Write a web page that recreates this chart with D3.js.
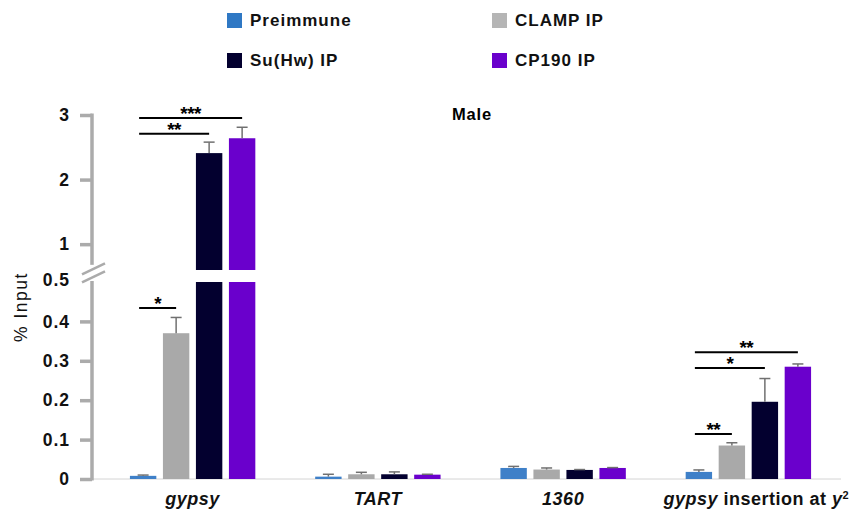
<!DOCTYPE html>
<html>
<head>
<meta charset="utf-8">
<script src="https://cdn.jsdelivr.net/npm/d3@7"></script>
<style>
  body { margin: 0; background: #fff; }
  svg { display: block; font-family: "Liberation Sans", Arial, sans-serif; }
</style>
</head>
<body>
<div id="chart"></div>
<script>
const categories = ["gypsy", "TART", "1360", "gypsy insertion at y2"];
const series = ["Preimmune", "CLAMP IP", "Su(Hw) IP", "CP190 IP"];
const seriesColors = ["#3f80c8", "#a9a9a9", "#03002f", "#6a00cc"];

// % input per category, one array per antibody
const preimmune = [0.008, 0.006, 0.028, 0.018];
const clampIP = [0.37, 0.012, 0.024, 0.085];
const suhwIP = [2.41, 0.012, 0.023, 0.196];
const cp190IP = [2.64, 0.011, 0.028, 0.285];

const preimmuneErr = [0.002, 0.006, 0.004, 0.005];
const clampErr = [0.04, 0.005, 0.004, 0.007];
const suhwErr = [0.17, 0.006, 0.001, 0.059];
const cp190Err = [0.17, 0.001, 0.001, 0.007];

const yTicksLow = [0, 0.1, 0.2, 0.3, 0.4, 0.5];
const yTicksHigh = [1, 2, 3];

// significance: [category, compared series, height (% input), stars]
const brackets = [
    ["gypsy", "CLAMP IP", 0.434, "*"],
    ["gypsy", "Su(Hw) IP", 2.71, "**"],
    ["gypsy", "CP190 IP", 2.955, "***"],
    ["gypsy insertion at y2", "CLAMP IP", 0.114, "**"],
    ["gypsy insertion at y2", "Su(Hw) IP", 0.282, "*"],
    ["gypsy insertion at y2", "CP190 IP", 0.322, "**"],
];

const values = [preimmune, clampIP, suhwIP, cp190IP];
const errors = [preimmuneErr, clampErr, suhwErr, cp190Err];

const width = 860, height = 517;
const axisX = 92;
const breakAt = 0.5;

const svg = d3.select("#chart").append("svg")
    .attr("width", width)
    .attr("height", height);

// broken y axis: two linear scales stacked
const yLow = d3.scaleLinear().domain([0, breakAt]).range([479, 282]);
const yHigh = d3.scaleLinear().domain([0.6, 3]).range([270, 115]);
const yVal = (v) => (v <= breakAt ? yLow(v) : yHigh(v));

const x = d3.scaleBand().domain(categories).range([100, 841]);
const xInner = d3.scaleBand().domain(series)
    .range([x.bandwidth() / 2 - 66, x.bandwidth() / 2 + 66])
    .paddingInner(0.2)
    .paddingOuter(0.1);

const barX = (cat, s) => x(cat) + xInner(s);
const barMid = (cat, s) => barX(cat, s) + xInner.bandwidth() / 2;

// legend
const legendG = svg.append("g");
series.forEach((s, i) => {
    const lx = i % 2 === 0 ? 227 : 492;
    const ly = i < 2 ? 13 : 53;
    legendG.append("rect")
        .attr("x", lx).attr("y", ly)
        .attr("width", 15).attr("height", 15)
        .attr("fill", i === 1 ? "#b5b5b5" : i === 0 ? "#2f78c4" : seriesColors[i]);
    legendG.append("text")
        .attr("x", lx + 23).attr("y", ly + 13)
        .style("font-size", "17px")
        .style("font-weight", "bold")
        .style("letter-spacing", "1px")
        .attr("fill", "#111")
        .text(s);
});

// title
svg.append("text")
    .attr("x", 472).attr("y", 120)
    .attr("text-anchor", "middle")
    .style("font-size", "16.5px")
    .style("font-weight", "bold")
    .style("letter-spacing", "0.8px")
    .text("Male");

// x baseline
svg.append("line")
    .attr("x1", axisX).attr("x2", 841)
    .attr("y1", yLow(0)).attr("y2", yLow(0))
    .attr("stroke", "#d4d4d4")
    .attr("stroke-width", 1);

// bars
const barsG = svg.append("g");
categories.forEach((cat, ci) => {
    series.forEach((s, si) => {
        const v = values[si][ci];
        const bx = barX(cat, s);
        const bw = xInner.bandwidth();
        if (v <= breakAt) {
            barsG.append("rect")
                .attr("x", bx).attr("y", yLow(v))
                .attr("width", bw).attr("height", yLow(0) - yLow(v))
                .attr("fill", seriesColors[si]);
        } else {
            barsG.append("rect")
                .attr("x", bx).attr("y", yLow(breakAt))
                .attr("width", bw).attr("height", yLow(0) - yLow(breakAt))
                .attr("fill", seriesColors[si]);
            barsG.append("rect")
                .attr("x", bx).attr("y", yHigh(v))
                .attr("width", bw).attr("height", yHigh(0.6) - yHigh(v))
                .attr("fill", seriesColors[si]);
        }
        // error bar (upper only)
        const e = errors[si][ci];
        const mx = barMid(cat, s);
        barsG.append("line")
            .attr("x1", mx).attr("x2", mx)
            .attr("y1", yVal(v)).attr("y2", yVal(v + e))
            .attr("stroke", "#707070").attr("stroke-width", 1.5);
        barsG.append("line")
            .attr("x1", mx - 5.5).attr("x2", mx + 5.5)
            .attr("y1", yVal(v + e)).attr("y2", yVal(v + e))
            .attr("stroke", "#707070").attr("stroke-width", 1.5);
    });
});

// significance brackets
const sigG = svg.append("g");
brackets.forEach(([cat, target, level, stars]) => {
    const x1 = barMid(cat, series[0]) - 4;
    const x2 = barMid(cat, target);
    const yy = yVal(level);
    sigG.append("line")
        .attr("x1", x1).attr("x2", x2)
        .attr("y1", yy).attr("y2", yy)
        .attr("stroke", "#000").attr("stroke-width", 2);
    sigG.append("text")
        .attr("x", (x1 + x2) / 2).attr("y", yy + 2)
        .attr("text-anchor", "middle")
        .style("font-size", "19px")
        .style("font-weight", "bold")
        .style("letter-spacing", "-0.5px")
        .text(stars);
});

// y axes
const axisStyle = (g) => {
    g.select(".domain").remove();
    g.selectAll(".tick line").attr("stroke", "#ababab").attr("stroke-width", 3.5);
    g.selectAll(".tick text")
        .attr("fill", "#111")
        .style("font-size", "17.5px")
        .style("font-weight", "bold")
        .style("letter-spacing", "1px")
        .style("font-family", "'Liberation Sans', Arial, sans-serif");
};

const lowAxis = svg.append("g")
    .attr("transform", `translate(${axisX},0)`)
    .call(d3.axisLeft(yLow).tickValues(yTicksLow).tickSize(12).tickPadding(10).tickFormat((d) => String(d)))
    .call(axisStyle);
lowAxis.selectAll(".tick").filter((d) => d === breakAt).select("line").remove();
lowAxis.selectAll(".tick").filter((d) => d === breakAt).select("text").attr("dy", "0.2em");

svg.append("g")
    .attr("transform", `translate(${axisX},0)`)
    .call(d3.axisLeft(yHigh).tickValues(yTicksHigh).tickSize(12).tickPadding(10).tickFormat((d) => String(d)))
    .call(axisStyle);

// axis spine with break
const spine = svg.append("g").attr("stroke", "#ababab").attr("stroke-width", 3.5);
spine.append("line")
    .attr("x1", axisX).attr("x2", axisX)
    .attr("y1", yHigh(3) - 1.5).attr("y2", yHigh(0.68));
spine.append("line")
    .attr("x1", axisX).attr("x2", axisX)
    .attr("y1", yLow(breakAt) - 1).attr("y2", yLow(0) + 1.5);
[-4, 4].forEach((off) => {
    const cy = (yHigh(0.68) + yLow(breakAt)) / 2 + off;
    spine.append("line")
        .attr("x1", axisX - 10).attr("x2", axisX + 13)
        .attr("y1", cy + 5).attr("y2", cy - 6)
        .attr("stroke-width", 2.5);
});

// y label
svg.append("text")
    .attr("transform", "translate(27,307) rotate(-90)")
    .attr("text-anchor", "middle")
    .style("font-size", "17.5px")
    .style("letter-spacing", "1.5px")
    .attr("fill", "#111")
    .text("% Input");

// x labels
const xLab = svg.append("g")
    .style("font-size", "18px")
    .style("font-weight", "bold")
    .attr("fill", "#111");
categories.forEach((cat) => {
    const t = xLab.append("text")
        .attr("x", x(cat) + x.bandwidth() / 2)
        .attr("y", 505)
        .attr("text-anchor", "middle")
        .style("letter-spacing", "0.5px");
    if (cat === "gypsy insertion at y2") {
        t.attr("x", x(cat) + x.bandwidth() / 2 + 8);
        t.append("tspan").style("font-style", "italic").text("gypsy");
        t.append("tspan").text(" insertion at ");
        t.append("tspan").style("font-style", "italic").text("y");
        t.append("tspan").attr("baseline-shift", "super").style("font-size", "11px").text("2");
    } else {
        t.style("font-style", "italic").text(cat);
    }
});
</script>
</body>
</html>
